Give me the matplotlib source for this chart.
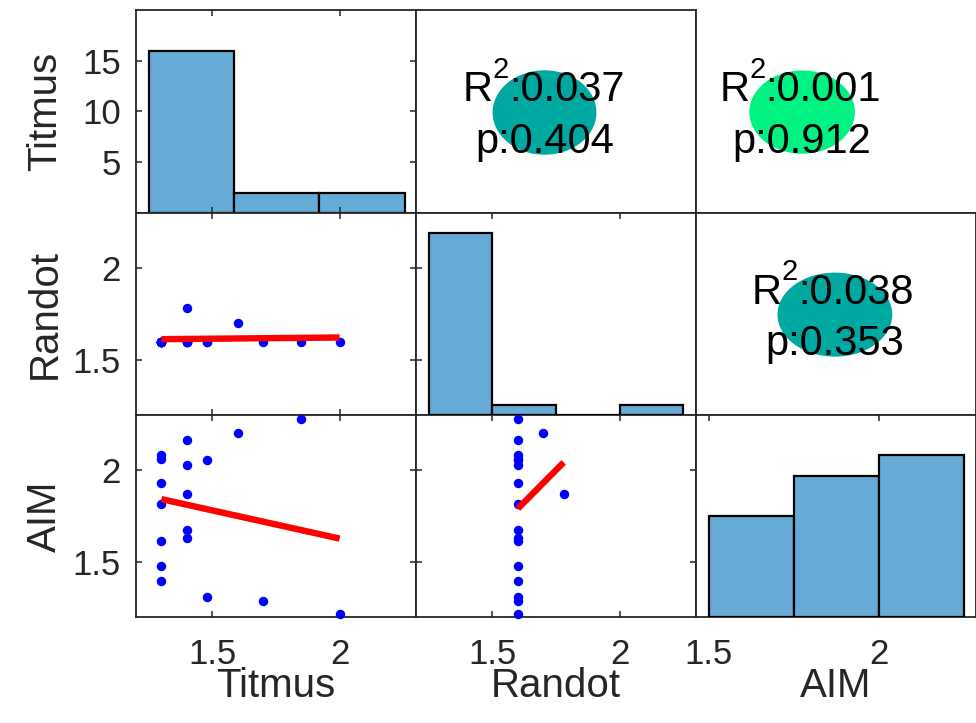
import numpy as np
import matplotlib
matplotlib.use('Agg')
import matplotlib.pyplot as plt
from matplotlib.patches import Ellipse

# Dados (log arcsec)
variaveis = ['Titmus', 'Randot', 'AIM']
titmus = [1.30, 1.30, 1.30, 1.30, 1.30, 1.30, 1.30, 1.40, 1.40, 1.40, 1.40, 1.40,
          1.48, 1.48, 1.60, 1.70, 1.85, 2.00]
randot = [1.60, 1.60, 1.60, 1.60, 1.60, 1.60, 1.60, 1.60, 1.60, 1.78, 1.60, 1.60,
          1.60, 1.60, 1.70, 1.60, 1.60, 1.60]
aim = [2.082, 2.063, 1.927, 1.818, 1.614, 1.478, 1.396, 2.165, 2.029, 1.869, 1.674, 1.629,
       2.055, 1.310, 2.204, 1.287, 2.278, 1.218]

# Histogramas (bordas no eixo da coluna, contagens)
titmus_bordas = [1.25, 1.585, 1.92, 2.255]
titmus_contagem = [16, 2, 2]
randot_bordas = [1.25, 1.5, 1.75, 2.0, 2.25]
randot_contagem = [18, 1, 0, 1]
aim_bordas = [1.5, 1.75, 2.0, 2.25]
aim_contagem = [5, 7, 8]

# Retas de regressão (inclinação, intercepto)
reta_titmus_randot = (0.013, 1.596)
reta_titmus_aim = (-0.307, 2.241)
reta_randot_aim = (1.40, -0.45)

# Estatísticas
r2 = [0.037, 0.001, 0.038]
pval = [0.404, 0.912, 0.353]

plt.rcParams['font.family'] = 'Liberation Sans'

W, H = 976, 723
fig = plt.figure(figsize=(W / 100, H / 100), dpi=100)
renderer = fig.canvas.get_renderer()

col_x = [136, 416, 696, 976]
lin_y = [10, 213, 415, 617]
cor_eixo = '#262626'
cor_hist = '#66AAD7'

lims = [(1.2, 2.3), (1.2, 2.3), (1.463, 2.286)]
ylims = [(0, 20), (1.2, 2.3), (1.2, 2.3)]
yticks = [[5, 10, 15], [1.5, 2], [1.5, 2]]

axs = [[None] * 3 for _ in range(3)]
for i in range(3):
    for j in range(3):
        l = col_x[j] / W
        w = (col_x[j + 1] - col_x[j]) / W
        b = (H - lin_y[i + 1]) / H
        h = (lin_y[i + 1] - lin_y[i]) / H
        ax = fig.add_axes([l, b, w, h])
        ax.set_xlim(lims[j])
        ax.set_ylim(ylims[i])
        for s in ax.spines.values():
            s.set_color(cor_eixo)
            s.set_linewidth(1.3)
        ax.tick_params(direction='in', length=4, width=1.1, color=cor_eixo,
                       top=True, right=True, labelsize=25,
                       labelcolor='#262626')
        ax.tick_params(axis='x', pad=15)
        ax.tick_params(axis='y', pad=11)
        if j > i:
            ax.set_xticks([])
            ax.set_yticks([])
        else:
            ax.set_xticks([1.5, 2])
            ax.set_yticks(yticks[i])
        if j != 0:
            ax.tick_params(labelleft=False)
        if i != 2:
            ax.tick_params(labelbottom=False)
        ax.xaxis.set_major_formatter(plt.FuncFormatter(lambda v, p: f'{v:g}'))
        ax.yaxis.set_major_formatter(plt.FuncFormatter(lambda v, p: f'{v:g}'))
        axs[i][j] = ax

# Diagonal: histogramas
ax = axs[0][0]
ax.bar(titmus_bordas[:-1], titmus_contagem, width=np.diff(titmus_bordas), align='edge',
       color=cor_hist, edgecolor='black', linewidth=1.6)

ax = axs[1][1].twinx()
ax.set_ylim(0, 20)
ax.set_yticks([])
for s in ax.spines.values():
    s.set_visible(False)
ax.bar(randot_bordas[:-1], randot_contagem, width=np.diff(randot_bordas), align='edge',
       color=cor_hist, edgecolor='black', linewidth=1.6)

axs[2][2].set_yticks([])
ax = axs[2][2].twinx()
ax.set_ylim(0, 10)
ax.set_yticks([])
for s in ax.spines.values():
    s.set_visible(False)
ax.bar(aim_bordas[:-1], aim_contagem, width=np.diff(aim_bordas), align='edge',
       color=cor_hist, edgecolor='black', linewidth=1.6)

# Dispersões com retas
pares = [(1, 0, titmus, randot, reta_titmus_randot),
         (2, 0, titmus, aim, reta_titmus_aim),
         (2, 1, randot, aim, reta_randot_aim)]
for i, j, x, y, (a, b) in pares:
    ax = axs[i][j]
    ax.plot(x, y, 'o', color='blue', ms=5.8, clip_on=False, zorder=3)
    xs = np.array([min(x), max(x)])
    ax.plot(xs, a * xs + b, color='red', linewidth=4.6, solid_capstyle='butt', zorder=4)


def texto_r2(ax, cx, base, valor):
    # "R" + expoente "2" elevado + ":valor", centrado em cx (fração do eixo)
    partes = [('R', 30, 0), ('2', 21, 17), (f':{valor:.3f}', 30, 0)]
    objs = [ax.text(0, 0, s, fontsize=fs, transform=None) for s, fs, _ in partes]
    larg = [o.get_window_extent(renderer).width for o in objs]
    px, py = ax.transAxes.transform((cx, base))
    x0 = px - sum(larg) / 2
    for o, (s, fs, dy), wd in zip(objs, partes, larg):
        o.set_transform(ax.transAxes)
        xa, ya = ax.transAxes.inverted().transform((x0, py + dy * 100 / 72))
        o.set_position((xa, ya))
        o.set_ha('left')
        o.set_va('baseline')
        x0 += wd


# Triângulo superior: elipses e texto
paineis = [(0, 1, '#00A8A2', (0.459, 0.495), 0.371, 0.416, 0.455),
           (0, 2, '#00F283', (0.379, 0.497), 0.377, 0.41, 0.372),
           (1, 2, '#00A8A2', (0.496, 0.497), 0.41, 0.416, 0.488)]
for k, (i, j, cor, centro, ew, eh, tx) in enumerate(paineis):
    ax = axs[i][j]
    ax.add_patch(Ellipse(centro, ew, eh, transform=ax.transAxes, color=cor, lw=0))
    texto_r2(ax, tx, 0.55, r2[k])
    ax.text(tx + 0.006, 0.295, f'p:{pval[k]:.3f}', transform=ax.transAxes,
            ha='center', va='baseline', fontsize=30, color='black')

axs[0][2].spines['top'].set_visible(False)
axs[0][2].spines['right'].set_visible(False)

# Nomes das variáveis
for j, nome in enumerate(variaveis):
    cx = (col_x[j] + col_x[j + 1]) / 2 / W
    fig.text(cx, (H - 686) / H, nome, ha='center', va='center', fontsize=29, color='#262626')
for i, nome in enumerate(variaveis):
    cy = (H - (lin_y[i] + lin_y[i + 1]) / 2) / H
    fig.text(45 / W, cy, nome, ha='center', va='center', rotation=90, fontsize=29,
             color='#262626')

fig.savefig('out.png', dpi=100)
